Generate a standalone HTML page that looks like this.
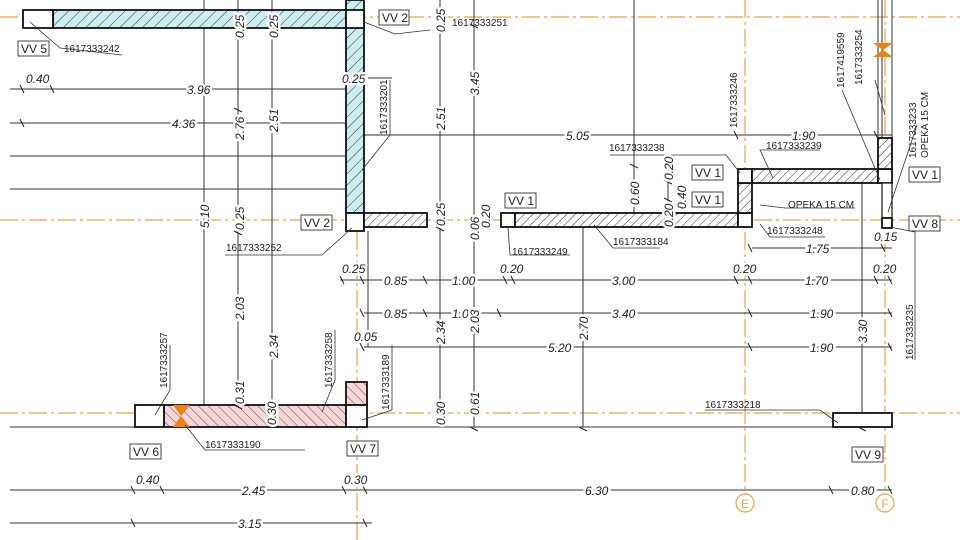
<!DOCTYPE html>
<html><head><meta charset="utf-8"><style>
html,body{margin:0;padding:0;background:#fff;}
svg{display:block;}
text{font-family:"Liberation Sans",sans-serif;fill:#222;}
.d{font-size:12px;font-style:italic;}
.d text{paint-order:stroke;stroke:#fff;stroke-width:5px;stroke-linejoin:round;}
.i{font-size:10px;}
.t{font-size:12px;}
</style></head><body>
<svg width="960" height="540" viewBox="0 0 960 540" xmlns="http://www.w3.org/2000/svg">
<defs>
<pattern id="hc" width="8" height="8" patternUnits="userSpaceOnUse" patternTransform="rotate(45)">
<rect width="8" height="8" fill="#cdeef0"/><line x1="0" y1="0" x2="0" y2="8" stroke="#333" stroke-width="1"/></pattern>
<pattern id="hw" width="6" height="6" patternUnits="userSpaceOnUse" patternTransform="rotate(45)">
<rect width="6" height="6" fill="#fff"/><line x1="0" y1="0" x2="0" y2="6" stroke="#333" stroke-width="1"/></pattern>
<pattern id="hp" width="7" height="7" patternUnits="userSpaceOnUse" patternTransform="rotate(-45)">
<rect width="7" height="7" fill="#f6d6d8"/><line x1="0" y1="0" x2="0" y2="7" stroke="#444" stroke-width="0.9"/></pattern>
</defs>
<rect width="960" height="540" fill="#fff"/>
<g stroke="#f0a040" stroke-width="1.2" stroke-dasharray="18,4,3,4" fill="none">
<line x1="0" y1="17" x2="960" y2="17"/>
<line x1="0" y1="220" x2="960" y2="220"/>
<line x1="0" y1="413" x2="960" y2="413"/>
<line x1="357" y1="0" x2="357" y2="540"/>
<line x1="745" y1="0" x2="745" y2="494"/>
<line x1="885" y1="0" x2="885" y2="494"/>
</g>
<circle cx="745" cy="503" r="9" fill="none" stroke="#f0a040" stroke-width="1.2"/>
<text x="745" y="508" font-size="12" text-anchor="middle" style="fill:#f0a040">E</text>
<circle cx="885" cy="503" r="9" fill="none" stroke="#f0a040" stroke-width="1.2"/>
<text x="885" y="508" font-size="12" text-anchor="middle" style="fill:#f0a040">F</text>
<g stroke="#333" stroke-width="1" fill="none">
<line x1="10" y1="427" x2="135" y2="427"/>
<line x1="367" y1="427" x2="833" y2="427"/>
<line x1="878" y1="0" x2="878" y2="138"/><line x1="882" y1="0" x2="882" y2="138"/><line x1="892" y1="0" x2="892" y2="138"/>
<line x1="10" y1="89" x2="346" y2="89"/>
<line x1="10" y1="123" x2="346" y2="123"/>
<line x1="10" y1="156" x2="346" y2="156"/>
<line x1="10" y1="189" x2="346" y2="189"/>
<line x1="364" y1="135" x2="892" y2="135"/>
<line x1="752" y1="248" x2="892" y2="248"/>
<line x1="340" y1="280" x2="892" y2="280"/>
<line x1="364" y1="313" x2="892" y2="313"/>
<line x1="364" y1="347" x2="892" y2="347"/>
<line x1="10" y1="490" x2="892" y2="490"/>
<line x1="10" y1="523" x2="372" y2="523"/>
<line x1="204" y1="0" x2="204" y2="405"/>
<line x1="238" y1="0" x2="238" y2="405"/>
<line x1="272" y1="0" x2="272" y2="405"/>
<line x1="440" y1="0" x2="440" y2="427"/>
<line x1="474" y1="0" x2="474" y2="427"/>
<line x1="583" y1="227" x2="583" y2="427"/>
<line x1="634" y1="0" x2="634" y2="213"/>
<line x1="668" y1="162" x2="668" y2="227"/>
<line x1="862" y1="183" x2="862" y2="427"/>
<line x1="368" y1="231" x2="368" y2="347"/>
<line x1="368" y1="78" x2="392" y2="78"/>
</g>
<g stroke="#111" stroke-width="1.8">
<rect x="53" y="10" width="293" height="18" fill="url(#hc)"/>
<rect x="23" y="10" width="30" height="18" fill="#fff"/>
<rect x="346" y="0" width="18" height="213" fill="url(#hc)"/>
<rect x="346" y="10" width="18" height="18" fill="#fff"/>
<rect x="346" y="213" width="18" height="18" fill="#fff"/>
<rect x="364" y="213" width="63" height="14" fill="url(#hw)"/>
<rect x="501" y="213" width="14" height="14" fill="#fff"/>
<rect x="515" y="213" width="223" height="14" fill="url(#hw)"/>
<rect x="738" y="213" width="14" height="14" fill="#fff"/>
<rect x="738" y="183" width="14" height="30" fill="url(#hw)"/>
<rect x="738" y="169" width="14" height="14" fill="#fff"/>
<rect x="752" y="169" width="126" height="14" fill="url(#hw)"/>
<rect x="878" y="169" width="14" height="14" fill="#fff"/>
<rect x="878" y="138" width="14" height="31" fill="url(#hw)"/>
<rect x="882" y="183" width="10" height="35" fill="#fff" stroke-width="1.2"/>
<rect x="882" y="218" width="10" height="10" fill="#fff"/>
<rect x="164" y="405" width="182" height="22" fill="url(#hp)"/>
<rect x="135" y="405" width="29" height="22" fill="#fff"/>
<rect x="346" y="382" width="21" height="23" fill="url(#hp)"/>
<rect x="346" y="405" width="21" height="22" fill="#fff"/>
<rect x="833" y="413" width="59" height="14" fill="#fff"/>
</g>
<polygon points="173,405 190,405 181,416 190,427 173,427 181,416" fill="#f08010"/>
<polygon points="873,43 893,43 883,50 893,57 873,57 883,50" fill="#f08010"/>
<g stroke="#222" stroke-width="1">
<path d="M20 85l4 8M50 85l4 8M20 119l4 8M340 276l4 8M360 276l4 8M423 276l4 8M503 276l4 8M511 276l4 8M734 276l4 8M748 276l4 8M874 276l4 8M888 276l4 8M360 309l4 8M423 309l4 8M497 309l4 8M748 309l4 8M888 309l4 8M360 343l4 8M748 343l4 8M888 343l4 8M131 486l4 8M160 486l4 8M342 486l4 8M363 486l4 8M829 486l4 8M888 486l4 8M131 519l4 8M363 519l4 8M748 244l4 8M881 244l4 8M734 131l4 8M874 131l4 8M200 211l8 4M234 231l8 4M234 108l8 4M268 24l8 4M436 24l8 4M436 207l8 4M436 227l8 4M470 24l8 4M470 227l8 4M630 164l8 4M664 180l8 4M664 198l8 4M436 405l8 4M470 427l8 4M579 427l8 4M858 427l8 4M234 405l8 4M268 405l8 4"/>
</g>
<g stroke="#333" stroke-width="0.8" fill="none">
<polyline points="30,22 60,48 122,55"/>
<polyline points="364,22 395,34 430,30"/>
<polyline points="362,170 390,135 390,80"/>
<polyline points="352,228 322,255 225,255"/>
<polyline points="508,228 510,255 570,255"/>
<polyline points="594,225 613,248 660,248"/>
<polyline points="740,173 726,155 610,155"/>
<polyline points="760,224 770,237 825,237"/>
<polyline points="773,178 760,150 820,150"/>
<polyline points="880,180 842,90"/>
<polyline points="885,115 875,80"/>
<polyline points="888,212 917,125"/>
<polyline points="890,227 915,232 915,360"/>
<polyline points="838,423 820,410 705,410"/>
<polyline points="155,415 170,390 170,345"/>
<polyline points="185,425 205,450 305,450"/>
<polyline points="322,412 335,380 335,330"/>
<polyline points="362,420 392,410 392,345"/>
<polyline points="760,205 785,208 855,208"/>
</g>
<g fill="#fff" stroke="#333" stroke-width="0.9">
<rect x="18" y="41" width="31" height="15"/><rect x="379" y="10" width="30" height="15"/>
<rect x="301" y="215" width="31" height="15"/><rect x="505" y="193" width="31" height="15"/>
<rect x="692" y="165" width="31" height="15"/><rect x="692" y="192" width="31" height="15"/>
<rect x="909" y="167" width="31" height="15"/><rect x="909" y="216" width="31" height="15"/>
<rect x="130" y="444" width="31" height="15"/><rect x="347" y="441" width="31" height="15"/>
<rect x="852" y="447" width="31" height="15"/>
</g>
<g class="t">
<text x="21" y="53">VV 5</text><text x="382" y="22">VV 2</text><text x="304" y="227">VV 2</text>
<text x="508" y="205">VV 1</text><text x="695" y="177">VV 1</text><text x="695" y="204">VV 1</text>
<text x="912" y="179">VV 1</text><text x="912" y="228">VV 8</text><text x="133" y="456">VV 6</text>
<text x="350" y="453">VV 7</text><text x="855" y="459">VV 9</text>
<text x="788" y="208" font-size="10">OPEKA 15 CM</text>
</g>
<g class="i">
<text x="64" y="52">1617333242</text><text x="452" y="26">1617333251</text>
<text x="226" y="251">1617333252</text><text x="512" y="255">1617333249</text>
<text x="613" y="245">1617333184</text><text x="609" y="151">1617333238</text>
<text x="766" y="149">1617333239</text><text x="767" y="234">1617333248</text>
<text x="705" y="408">1617333218</text><text x="205" y="448">1617333190</text>
<text transform="translate(387,135) rotate(-90)">1617333201</text>
<text transform="translate(737,128) rotate(-90)">1617333246</text>
<text transform="translate(844,88) rotate(-90)">1617419559</text>
<text transform="translate(862,85) rotate(-90)">1617333254</text>
<text transform="translate(916,158) rotate(-90)">1617333233</text>
<text transform="translate(928,158) rotate(-90)" font-size="10">OPEKA 15 CM</text>
<text transform="translate(913,360) rotate(-90)">1617333235</text>
<text transform="translate(167,388) rotate(-90)">1617333257</text>
<text transform="translate(332,388) rotate(-90)">1617333258</text>
<text transform="translate(389,410) rotate(-90)">1617333189</text>
</g>
<g class="d">
<text x="26" y="83">0.40</text><text x="187" y="94">3.96</text><text x="172" y="128">4.36</text>
<text x="566" y="140">5.05</text><text x="792" y="140">1.90</text>
<text x="342" y="273">0.25</text><text x="384" y="285">0.85</text><text x="452" y="285">1.00</text>
<text x="500" y="273">0.20</text><text x="612" y="285">3.00</text><text x="733" y="273">0.20</text>
<text x="805" y="285">1.70</text><text x="873" y="273">0.20</text>
<text x="384" y="318">0.85</text><text x="452" y="318">1.00</text><text x="612" y="318">3.40</text><text x="810" y="318">1.90</text>
<text x="354" y="341">0.05</text><text x="548" y="352">5.20</text><text x="810" y="352">1.90</text>
<text x="806" y="253">1.75</text><text x="874" y="241">0.15</text>
<text x="136" y="484">0.40</text><text x="242" y="495">2.45</text><text x="344" y="484">0.30</text>
<text x="585" y="495">6.30</text><text x="851" y="495">0.80</text><text x="238" y="528">3.15</text>
<text x="342" y="83">0.25</text>
<g transform="rotate(-90)">
<text x="-228" y="209">5.10</text><text x="-140" y="244">2.76</text><text x="-320" y="244">2.03</text>
<text x="-132" y="278">2.51</text><text x="-358" y="278">2.34</text><text x="-404" y="244">0.31</text>
<text x="-425" y="276">0.30</text><text x="-38" y="244">0.25</text><text x="-38" y="278">0.25</text>
<text x="-230" y="244">0.25</text>
<text x="-95" y="479">3.45</text><text x="-130" y="445">2.51</text><text x="-32" y="445">0.25</text>
<text x="-226" y="445">0.25</text><text x="-240" y="479">0.06</text><text x="-228" y="490">0.20</text>
<text x="-344" y="445">2.34</text><text x="-333" y="479">2.03</text><text x="-425" y="445">0.30</text><text x="-415" y="479">0.61</text>
<text x="-340" y="588">2.70</text><text x="-205" y="639">0.60</text><text x="-180" y="673">0.20</text>
<text x="-209" y="686">0.40</text><text x="-227" y="673">0.20</text><text x="-343" y="867">3.30</text>
</g>
</g>
</svg>
</body></html>
